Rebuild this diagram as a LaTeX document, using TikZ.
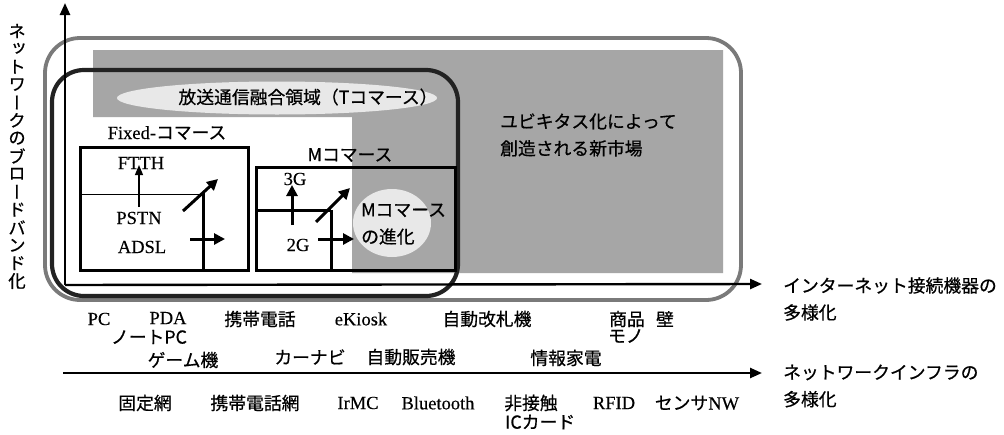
\documentclass[tikz,border=0pt]{standalone}
\usepackage{fontspec}
\setmainfont[FakeBold=0.3]{Liberation Serif}
\newfontfamily\jp[FakeBold=0.6]{Noto Sans CJK JP}
\newfontfamily\jpv[RawFeature=+vert,FakeBold=0.6]{Noto Sans CJK JP}
\usetikzlibrary{arrows.meta,shapes.geometric}
\definecolor{fillgray}{HTML}{A6A6A6}
\definecolor{lightfill}{HTML}{E8E8E8}
\definecolor{rimgray}{HTML}{7A7A7A}
\definecolor{darkline}{HTML}{222222}
\tikzset{
  lat/.style={font=\fontsize{18.5}{22}\selectfont, inner sep=0pt},
  jpt/.style={font=\jp\fontsize{17.8}{27}\selectfont, inner sep=0pt, align=left},
  vch/.style={font=\jpv\fontsize{17.5}{20}\selectfont, inner sep=0pt},
  boxline/.style={line width=3pt, black},
  fatarrow/.style={line width=3pt, -{Triangle[length=11pt,width=11pt]}},
  thinarrow/.style={line width=1.2pt, -{Triangle[length=10pt,width=8pt]}},
  axisarrow/.style={line width=2.4pt, -{Triangle[length=12pt,width=10pt]}},
}
\begin{document}
\begin{tikzpicture}[x=1pt,y=-1pt]
\useasboundingbox (0,0) rectangle (1004,434);
\fill[white] (0,0) rectangle (1004,434);

% grey L-shaped area
\fill[fillgray] (93,50) -- (723,50) -- (723,273) -- (352,273) -- (352,117) -- (93,117) -- cycle;

% ellipse and circle
\node[ellipse, fill=lightfill, minimum width=320pt, minimum height=33pt, inner sep=0pt] (tell) at (277,98) {};
\node[ellipse, fill=lightfill, minimum width=78pt, minimum height=68pt, inner sep=0pt] (mcirc) at (392,223) {};

% rounded frames
\draw[rimgray, line width=3.8pt, rounded corners=35pt] (45,38) rectangle (741,300);
\draw[darkline, line width=4.2pt, rounded corners=32pt] (52,70) rectangle (458,296);

% axes
\coordinate (o1) at (65,285);
\coordinate (ytop) at (65,3);
\coordinate (x1end) at (762,284);
\coordinate (o2) at (63,373);
\coordinate (x2end) at (762,373);
\draw[axisarrow] (o1) -- (ytop);
\draw[axisarrow] (o1) -- (x1end);
\draw[axisarrow] (o2) -- (x2end);

% Fixed box
\draw[boxline] (80,147) rectangle (248,270);
\draw[line width=1pt] (80,194) -- (203,194);
\draw[boxline] (203,270) -- (203,193);
\node[lat] (ftth) at (141,163) {FTTH};
\node[lat] (pstn) at (139,218) {PSTN};
\node[lat] (adsl) at (142,247) {ADSL};
\coordinate (fa1) at (139,207);
\coordinate (fa2) at (139,165);
\draw[thinarrow] (fa1) -- (fa2);
\coordinate (fd1) at (183,211);
\coordinate (fd2) at (218,179);
\draw[fatarrow] (fd1) -- (fd2);
\coordinate (fh1) at (190,239);
\coordinate (fh2) at (225,239);
\draw[fatarrow] (fh1) -- (fh2);
\node[lat] (fixed) at (167,133) {Fixed-{\jp\fontsize{17.8}{20}\selectfont コマース}};

% M box
\draw[boxline] (256,167) rectangle (455,270);
\draw[boxline] (256,210) -- (331,210);
\draw[boxline] (331,210) -- (331,270);
\node[lat] (g3) at (295,179) {3G};
\node[lat] (g2) at (298,245) {2G};
\coordinate (ma1) at (292,225);
\coordinate (ma2) at (292,185);
\draw[fatarrow] (ma1) -- (ma2);
\coordinate (md1) at (316,222);
\coordinate (md2) at (350,188);
\draw[fatarrow] (md1) -- (md2);
\coordinate (mh1) at (318,239);
\coordinate (mh2) at (354,239);
\draw[fatarrow] (mh1) -- (mh2);
\node[jpt] (mcom) at (350,155) {Mコマース};
\node[jpt, anchor=west] (mevo) at (361,224) {Mコマース\\の進化};

% texts in the upper area
\node[jpt] (tcom) at (308,97) {放送通信融合領域（Tコマース）};
\node[jpt, anchor=west] (ubiq) at (500,135) {ユビキタス化によって\\創造される新市場};

% vertical axis label
\foreach \c [count=\i from 0] in {ネ,ッ,ト,ワ,ー,ク,の,ブ,ロ,ー,ド,バ,ン,ド,化} {
  \node[vch] (v\i) at (17,{31+\i*17.86}) {\c};
}

% axis labels
\node[jpt, anchor=west] (xlab1) at (783,299) {インターネット接続機器の\\多様化};
\node[jpt, anchor=west] (xlab2) at (783,386) {ネットワークインフラの\\多様化};

% devices
\node[lat] (pc) at (99,319) {PC};
\node[lat] (pda) at (168,318) {PDA};
\node[jpt] (keitai) at (260,319) {携帯電話};
\node[lat] (ekiosk) at (361,319) {eKiosk};
\node[jpt] (kaisatsu) at (487,319) {自動改札機};
\node[jpt] (shohin) at (627,319) {商品};
\node[jpt] (kabe) at (665,319) {壁};
\node[jpt] (notepc) at (149,337) {ノートPC};
\node[jpt] (mono) at (626,336) {モノ};
\node[jpt] (game) at (183,360) {ゲーム機};
\node[jpt] (carnavi) at (310,357) {カーナビ};
\node[jpt] (jihan) at (411,357) {自動販売機};
\node[jpt] (kaden) at (566,358) {情報家電};

% infrastructure
\node[jpt] (kotei) at (145,403) {固定網};
\node[jpt] (keitaimo) at (255,403) {携帯電話網};
\node[lat] (irmc) at (358,403) {IrMC};
\node[lat] (bt) at (438,403) {Bluetooth};
\node[jpt] (hisesshoku) at (531,403) {非接触};
\node[jpt, anchor=west] (iccard) at (505,422) {ICカード};
\node[lat] (rfid) at (614,403) {RFID};
\node[lat] (sensor) at (697,403) {{\jp\fontsize{17.8}{20}\selectfont センサ}NW};
\end{tikzpicture}
\end{document}
